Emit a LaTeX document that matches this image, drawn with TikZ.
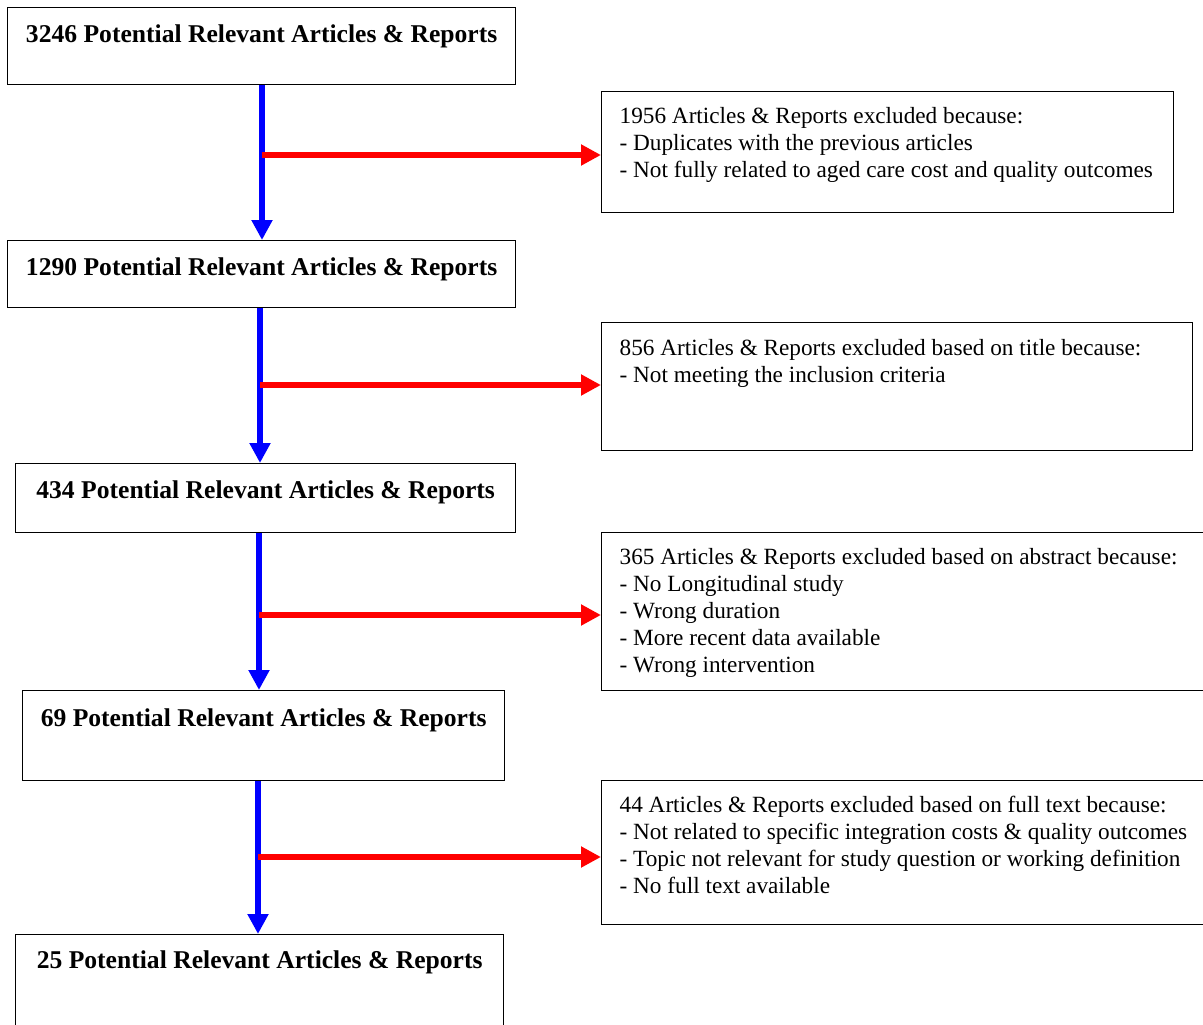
\documentclass[tikz,border=0pt]{standalone}
\usepackage{fontspec}
\setmainfont{Liberation Serif}
\usetikzlibrary{arrows.meta}

\begin{document}
\begin{tikzpicture}[
  x=1pt, y=-1pt,
  stage/.style={draw, line width=1.3pt, anchor=north west, inner sep=0pt, font=\fontsize{25.6}{30}\selectfont\bfseries},
  excl/.style={draw, line width=1.3pt, anchor=north west, inner xsep=18pt, inner ysep=0pt, align=flush left, font=\fontsize{23.25}{27}\selectfont},
  flow/.style={-{Triangle[length=20pt, width=20pt]}, line width=6pt, blue},
  drop/.style={-{Triangle[length=20pt, width=20pt]}, line width=6pt, red}
]
  \useasboundingbox (0,0) rectangle (1203,1025);

  % screening stages
  \node[stage, minimum width=508pt, text height=35pt, text depth=42pt] (s1) at (7,7) {3246 Potential Relevant Articles \& Reports};
  \node[stage, minimum width=508pt, text height=35pt, text depth=32pt] (s2) at (7,240) {1290 Potential Relevant Articles \& Reports};
  \node[stage, minimum width=500pt, text height=35pt, text depth=34pt] (s3) at (15,463) {434 Potential Relevant Articles \& Reports};
  \node[stage, minimum width=482pt, text height=36pt, text depth=54pt] (s4) at (22,690) {69 Potential Relevant Articles \& Reports};
  \node[stage, minimum width=488pt, text height=34pt, text depth=96pt] (s5) at (15,934) {25 Potential Relevant Articles \& Reports};

  % exclusions
  \node[excl, text width=536pt, text height=32pt, text depth=89pt] (x1) at (601,91) {1956 Articles \& Reports excluded because:\\- Duplicates with the previous articles\\- Not fully related to aged care cost and quality outcomes};
  \node[excl, text width=555pt, text height=33pt, text depth=95pt] (x2) at (601,322) {856 Articles \& Reports excluded based on title because:\\- Not meeting the inclusion criteria};
  \node[excl, text width=580pt, text height=32pt, text depth=126pt] (x3) at (601,532) {365 Articles \& Reports excluded based on abstract because:\\- No Longitudinal study\\- Wrong duration\\- More recent data available\\- Wrong intervention};
  \node[excl, text width=580pt, text height=32pt, text depth=112pt] (x4) at (601,780) {44 Articles \& Reports excluded based on full text because:\\- Not related to specific integration costs \& quality outcomes\\- Topic not relevant for study question or working definition\\- No full text available};

  \draw[flow] (s1.south -| 262,0) -- (s2.north -| 262,0);
  \draw[flow] (s2.south -| 260,0) -- (s3.north -| 260,0);
  \draw[flow] (s3.south -| 259,0) -- (s4.north -| 259,0);
  \draw[flow] (s4.south -| 258,0) -- (s5.north -| 258,0);

  \coordinate (j1) at (262,155);
  \coordinate (j2) at (260,385);
  \coordinate (j3) at (259,615);
  \coordinate (j4) at (258,857);
  \draw[drop] (j1) -- (j1 -| x1.west);
  \draw[drop] (j2) -- (j2 -| x2.west);
  \draw[drop] (j3) -- (j3 -| x3.west);
  \draw[drop] (j4) -- (j4 -| x4.west);
\end{tikzpicture}
\end{document}
